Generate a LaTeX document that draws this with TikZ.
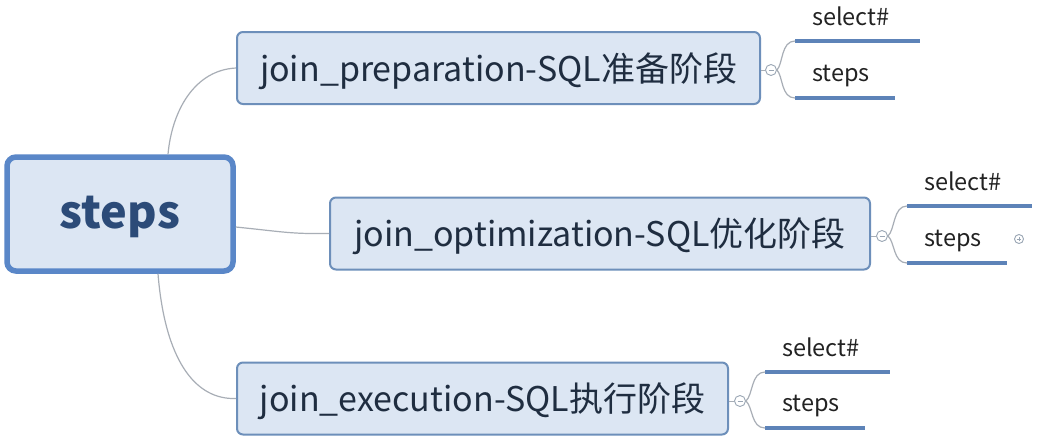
\documentclass[tikz,border=0pt]{standalone}
\usepackage{fontspec}
\setmainfont{Noto Sans CJK SC}
\newcommand{\lowered}[1]{\raisebox{-3pt}[\height][\depth]{#1}}
\begin{document}
\begin{tikzpicture}[x=1pt,y=-1pt,
  rootbox/.style={draw=rootblue,line width=5.5pt,fill=boxfill,rounded corners=9pt,minimum width=226pt,minimum height=114pt,inner sep=0pt,text=roottext,font=\fontsize{45}{50}\selectfont\bfseries},
  topicbox/.style={draw=boxblue,line width=2pt,fill=boxfill,rounded corners=6pt,minimum height=72pt,inner sep=0pt,text=topictext,font=\fontsize{34}{38}\selectfont},
  subtopic/.style={minimum height=50pt,minimum width=125pt,inner sep=0pt,text width=125pt,align=left,text=subtext,font=\fontsize{23.5}{26}\selectfont},
  uline/.style={draw=lineblue,line width=3.5pt},
  conn/.style={draw=conngray,line width=1.2pt},
  knob/.style={circle,draw=knobgray,fill=white,line width=0.9pt,minimum size=11pt,inner sep=0pt},
]
\definecolor{rootblue}{HTML}{5A87C8}
\definecolor{boxblue}{HTML}{6D8FBA}
\definecolor{boxfill}{HTML}{DCE6F3}
\definecolor{roottext}{HTML}{2C4B78}
\definecolor{topictext}{HTML}{1F2D40}
\definecolor{subtext}{HTML}{222222}
\definecolor{lineblue}{HTML}{5D83B8}
\definecolor{conngray}{HTML}{A8AEB6}
\definecolor{knobgray}{HTML}{9AA6B4}
\useasboundingbox (0,0) rectangle (1042,440);
\fill[white] (0,0) rectangle (1042,440);

% root
\node[rootbox] (root) at (120,214) {\lowered{steps}};

% topics
\node[topicbox,minimum width=523pt] (b1) at (498.5,68) {\lowered{join\_preparation-SQL准备阶段}};
\node[topicbox,minimum width=540pt] (b2) at (600,233.5) {\lowered{join\_optimization-SQL优化阶段}};
\node[topicbox,minimum width=491pt] (b3) at (482.5,398.5) {\lowered{join\_execution-SQL执行阶段}};

% root connectors
\draw[conn] (root.north) ++(48,0) coordinate (r1) .. controls (172,110) and (195,70) .. (b1.west);
\draw[conn] (root.east) ++(0,13) coordinate (r2) .. controls (285,232) and (290,234) .. (b2.west);
\draw[conn] (root.south) ++(38,0) coordinate (r3) .. controls (165,360) and (195,400) .. (b3.west);

% knobs
\node[knob] (k1) at (771,70) {};
\node[knob] (k2) at (882,236) {};
\node[knob] (k3) at (740,401) {};
\foreach \k in {k1,k2,k3}{\draw[knobgray,line width=0.9pt] ([xshift=-2.5pt]\k.center) -- ([xshift=2.5pt]\k.center);}
\draw[conn,line width=0.9pt] (b1.east |- k1) -- (k1.west);
\draw[conn,line width=0.9pt] (b2.east |- k2) -- (k2.west);
\draw[conn,line width=0.9pt] (b3.east |- k3) -- (k3.west);

% subtopics
\node[subtopic,anchor=south west] (s1a) at (795,41) {\hspace*{17pt}select\#};
\node[subtopic,anchor=south west,minimum width=100pt,text width=100pt] (s1b) at (795,98) {\hspace*{17pt}\lowered{steps}};
\node[subtopic,anchor=south west] (s2a) at (907,206) {\hspace*{17pt}select\#};
\node[subtopic,anchor=south west,minimum width=100pt,text width=100pt] (s2b) at (907,263) {\hspace*{17pt}\lowered{steps}};
\node[subtopic,anchor=south west] (s3a) at (765,372) {\hspace*{17pt}select\#};
\node[subtopic,anchor=south west,minimum width=100pt,text width=100pt] (s3b) at (765,428) {\hspace*{17pt}\lowered{steps}};

\foreach \s in {s1a,s1b,s2a,s2b,s3a,s3b}{\draw[uline] (\s.south west) -- (\s.south east);}

% braces
\draw[conn] (k1.east) .. controls (783,64) and (781,41) .. (s1a.south west);
\draw[conn] (k1.east) .. controls (783,76) and (781,98) .. (s1b.south west);
\draw[conn] (k2.east) .. controls (895,230) and (893,206) .. (s2a.south west);
\draw[conn] (k2.east) .. controls (895,242) and (893,263) .. (s2b.south west);
\draw[conn] (k3.east) .. controls (753,395) and (751,372) .. (s3a.south west);
\draw[conn] (k3.east) .. controls (753,407) and (751,428) .. (s3b.south west);

% expand knob
\node[knob,minimum size=9pt] (e2) at (1019,239) {};
\draw[knobgray,line width=0.9pt] ([xshift=-2.3pt]e2.center) -- ([xshift=2.3pt]e2.center) ([yshift=-2.3pt]e2.center) -- ([yshift=2.3pt]e2.center);
\end{tikzpicture}
\end{document}
